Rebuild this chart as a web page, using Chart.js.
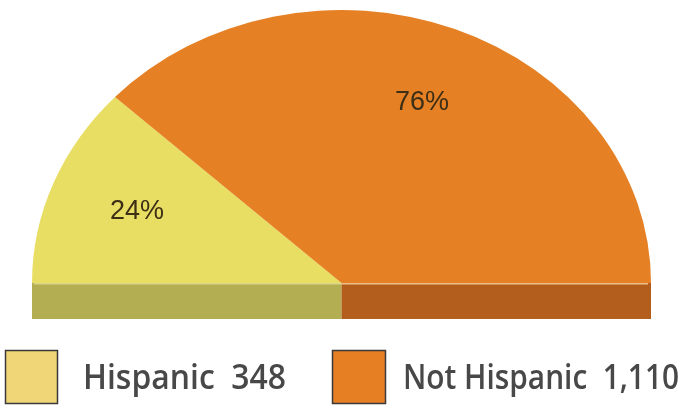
<!DOCTYPE html>
<html>
<head>
<meta charset="utf-8">
<script src="https://cdn.jsdelivr.net/npm/chart.js@4.4.0/dist/chart.umd.min.js"></script>
<style>
  html, body { margin: 0; padding: 0; background: #ffffff; }
  #wrap { width: 683px; height: 410px; position: relative; }
</style>
</head>
<body>
<div id="wrap"><canvas id="c"></canvas></div>
<script>
// ---- data ----
const categories = ['Hispanic', 'Not Hispanic'];
const counts = [348, 1110];
const countLabels = ['348', '1,110'];
const percentLabels = ['24%', '76%'];

// ---- styles ----
const topColors = ['#e8de64', '#e58025'];
const bandColors = ['#b3ae52', '#b35e1c'];
const legendColors = ['#f0d677', '#e67f24'];

const SY = 0.882;      // vertical squash of the pie (perspective)
const TOP_Y = 283;     // final y of the pie centre line
const BAND_H = 36;     // thickness of the 3D rim

const shapePlugin = {
  id: 'shape3d',
  beforeDatasetsDraw(chart) {
    const ctx = chart.ctx;
    const arcs = chart.getDatasetMeta(0).data;
    const a0 = arcs[0];
    const cx = a0.x, cy = a0.y, r = a0.outerRadius;
    ctx.save();
    ctx.fillStyle = bandColors[0];
    ctx.fillRect(cx - r, TOP_Y, r, BAND_H);
    ctx.fillStyle = bandColors[arcs.length - 1];
    ctx.fillRect(cx, TOP_Y, r, BAND_H);
    ctx.fillStyle = 'rgba(255,225,170,0.75)';
    ctx.fillRect(cx, TOP_Y - 0.5, r - 3, 2);
    ctx.fillStyle = 'rgba(245,240,170,0.6)';
    ctx.fillRect(cx - r + 2, TOP_Y - 0.5, r - 2, 2);
    ctx.restore();
    ctx.save();
    ctx.translate(0, TOP_Y);
    ctx.scale(1, SY);
    ctx.translate(0, -cy);
  },
  afterDatasetsDraw(chart) {
    const ctx = chart.ctx;
    ctx.restore();
    const arcs = chart.getDatasetMeta(0).data;
    ctx.save();
    ctx.font = '27px "Liberation Sans", Arial, sans-serif';
    ctx.fillStyle = '#3d2e16';
    ctx.textAlign = 'center';
    ctx.textBaseline = 'middle';
    arcs.forEach((a, i) => {
      const mid = (a.startAngle + a.endAngle) / 2;
      const k = 0.71 * a.outerRadius;
      const px = a.x + Math.cos(mid) * k;
      const py = TOP_Y + Math.sin(mid) * k * SY;
      ctx.fillText(percentLabels[i], px, py);
    });
    ctx.restore();
  },
  afterDraw(chart) {
    const ctx = chart.ctx;
    const items = [
      { box: [5, 350, 53, 54], tx: 83, tw: 203 },
      { box: [332, 350, 54, 54], tx: 403, tw: 276 }
    ];
    ctx.save();
    items.forEach((it, i) => {
      const [bx, by, bw, bh] = it.box;
      ctx.fillStyle = legendColors[i];
      ctx.fillRect(bx, by, bw, bh);
      ctx.strokeStyle = '#3a3a3a';
      ctx.lineWidth = 1.5;
      ctx.strokeRect(bx + 0.5, by + 0.5, bw - 1, bh - 1);
      ctx.fillStyle = '#484848';
      ctx.font = '600 35px "Open Sans", "DejaVu Sans", sans-serif';
      ctx.textAlign = 'left';
      ctx.textBaseline = 'alphabetic';
      ctx.fillText(categories[i] + '  ' + countLabels[i], it.tx, 389, it.tw);
    });
    ctx.restore();
  }
};

new Chart(document.getElementById('c'), {
  type: 'pie',
  data: {
    labels: categories,
    datasets: [{
      data: counts,
      backgroundColor: topColors,
      borderWidth: 0,
      hoverOffset: 0
    }]
  },
  options: {
    responsive: true,
    maintainAspectRatio: false,
    animation: false,
    rotation: -90,
    circumference: 180,
    layout: { padding: { left: 32, right: 32, top: 0, bottom: 80 } },
    plugins: {
      legend: { display: false },
      tooltip: { enabled: false }
    },
    events: []
  },
  plugins: [shapePlugin]
});
</script>
</body>
</html>
